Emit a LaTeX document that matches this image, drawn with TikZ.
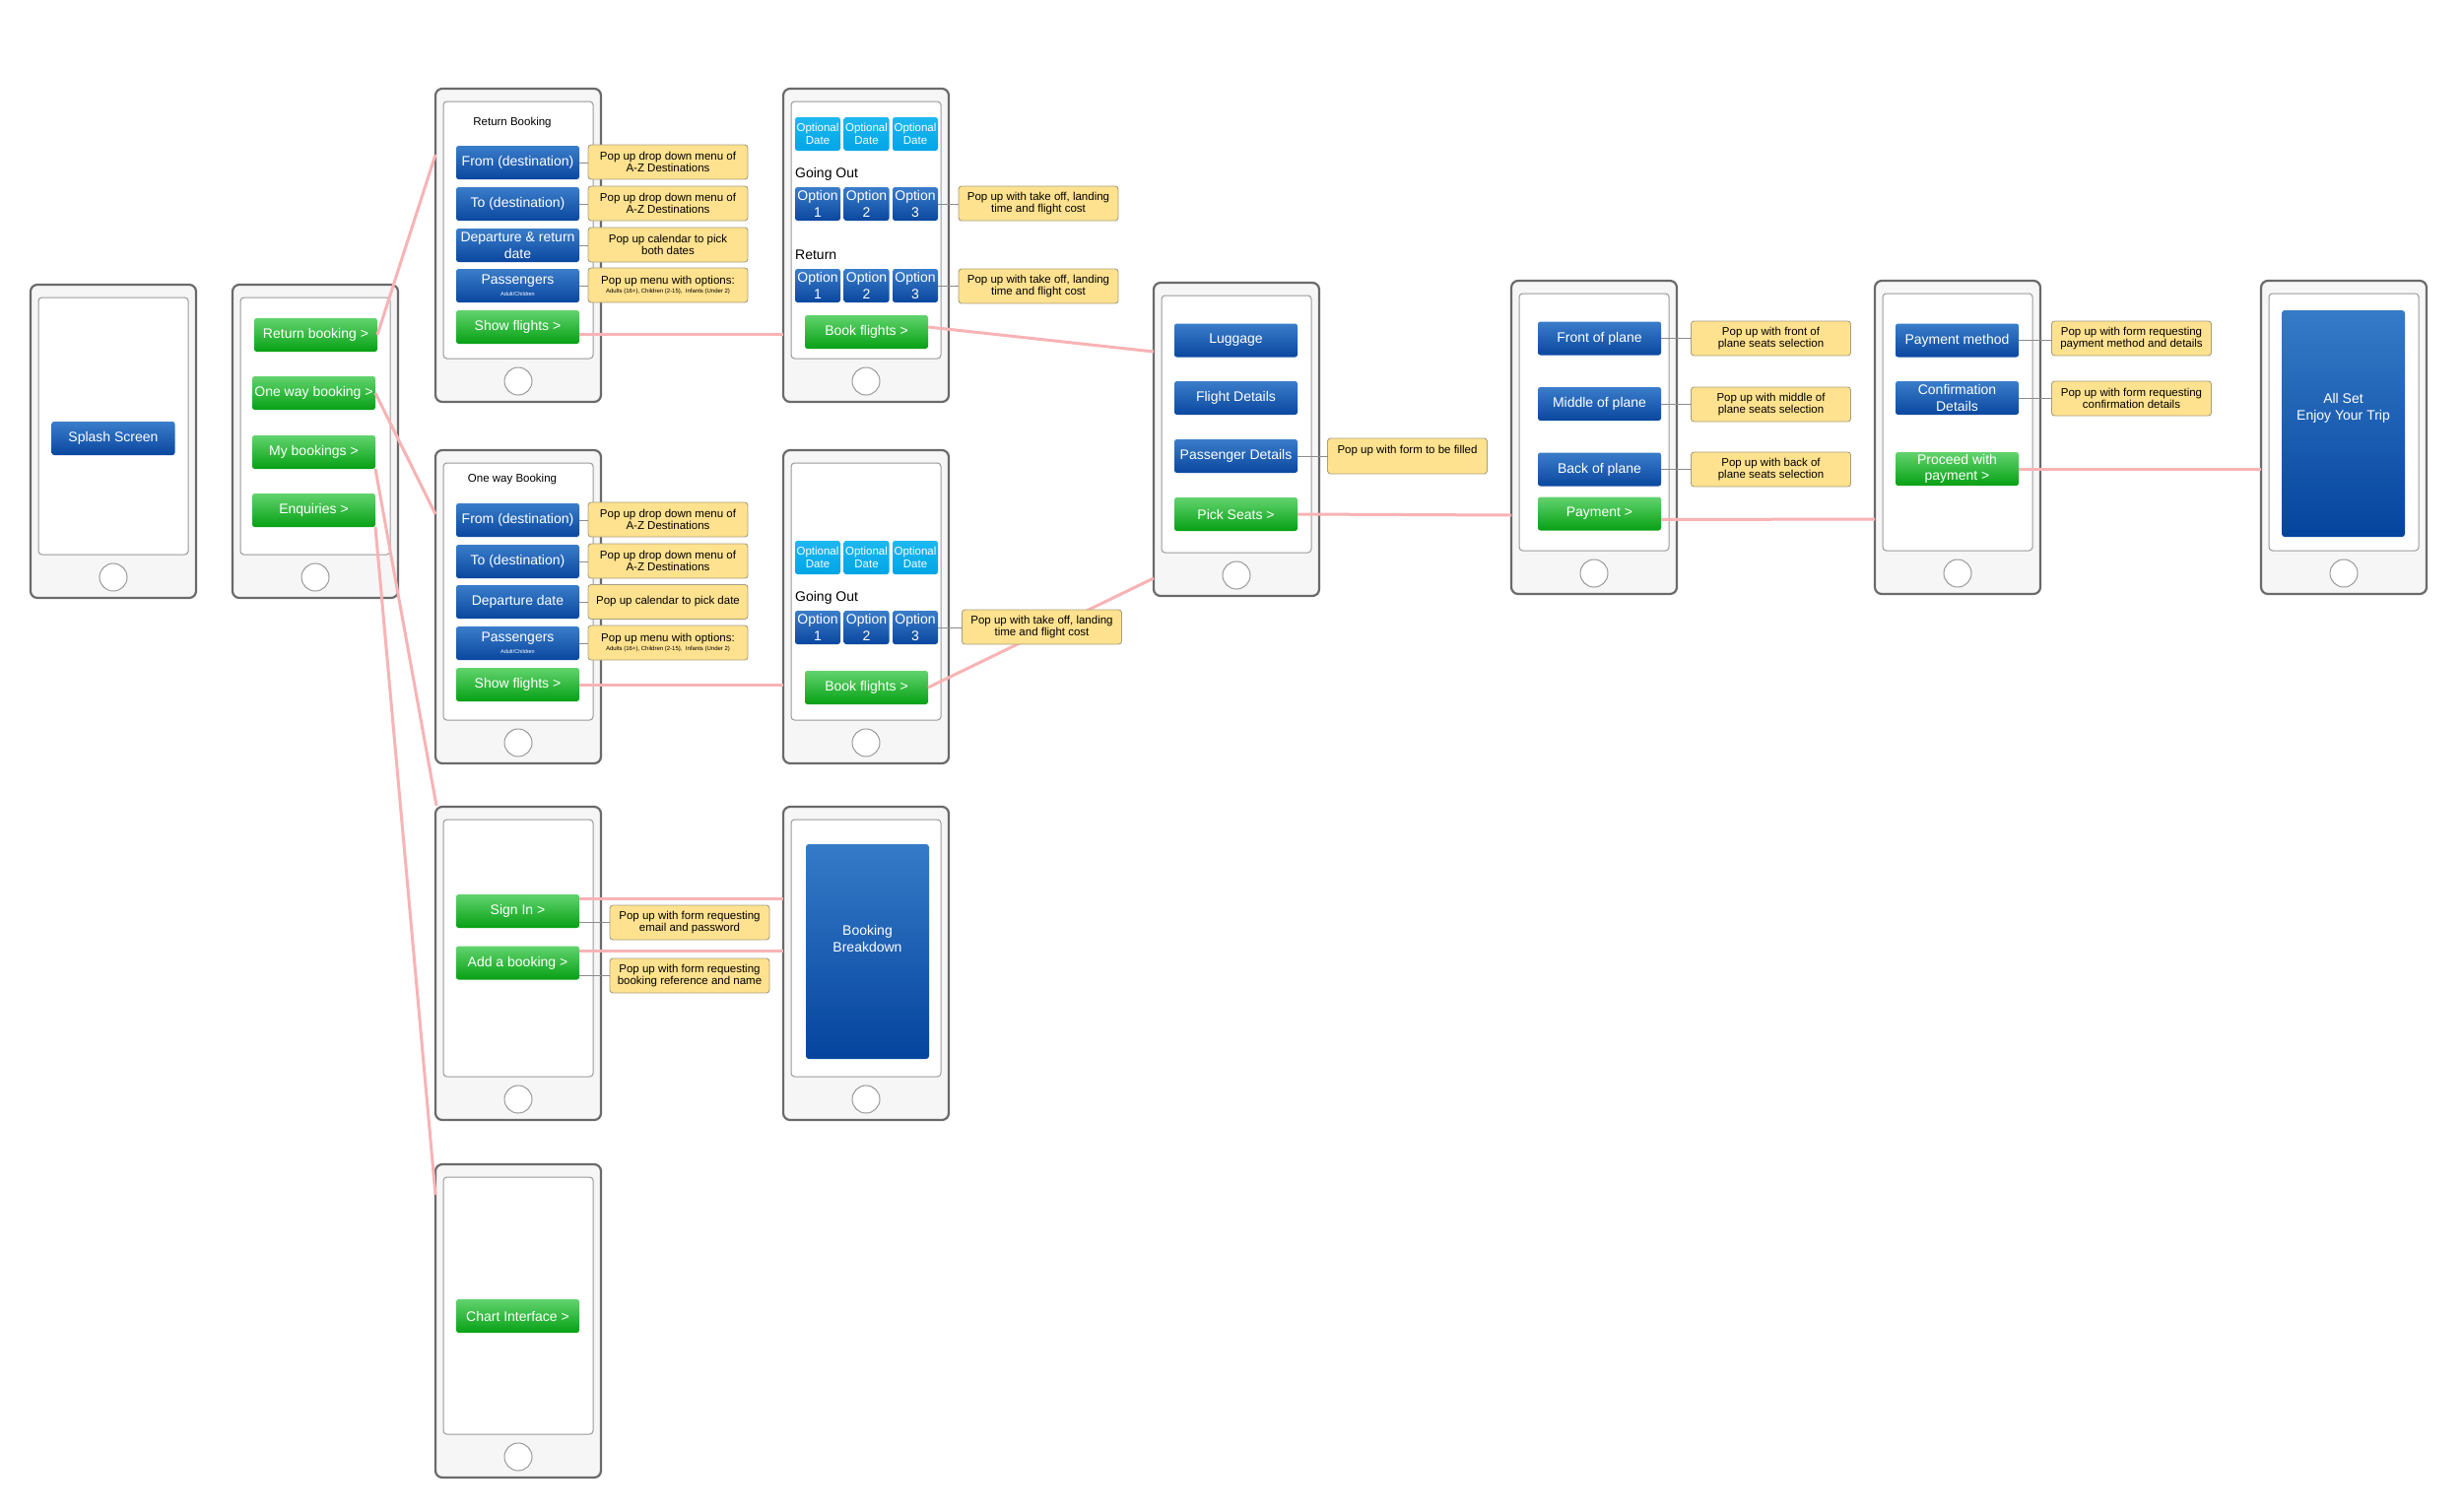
\documentclass[tikz,border=0pt]{standalone}
\usepackage{fontspec}
\setmainfont{Liberation Sans}
\usetikzlibrary{calc}
\definecolor{phoneline}{HTML}{6A6A6A}
\definecolor{phonefill}{HTML}{F6F6F6}
\definecolor{screenline}{HTML}{9A9A9A}
\definecolor{btop}{HTML}{3A7DCA}
\definecolor{bbot}{HTML}{0A479F}
\definecolor{gtop}{HTML}{62D36E}
\definecolor{gbot}{HTML}{06A014}
\definecolor{ltop}{HTML}{1EB8F0}
\definecolor{lbot}{HTML}{00A5E6}
\definecolor{ptop}{HTML}{357BC8}
\definecolor{pbot}{HTML}{05449E}
\definecolor{notefill}{HTML}{FFE28F}
\definecolor{noteline}{HTML}{A89F80}
\definecolor{linkpink}{HTML}{F8B3B5}
\definecolor{tiegray}{HTML}{8C8C8C}
\newcommand{\Phone}[3]{%
  \node[phonebody] (#1) at (#2,#3) {};
  \node[screenbox] (#1-scr) at (#2+8,#3+13) {};
  \node[homebtn] (#1-home) at (#2+84,#3+297) {};
}
\begin{document}
\begin{tikzpicture}[x=1pt,y=-1pt,
  phonebody/.style={draw=phoneline, line width=2.2pt, fill=phonefill, rounded corners=7pt, minimum width=168pt, minimum height=318pt, anchor=north west, inner sep=0pt, outer sep=0pt},
  screenbox/.style={draw=screenline, line width=1pt, fill=white, rounded corners=3.5pt, minimum width=152pt, minimum height=261pt, anchor=north west, inner sep=0pt, outer sep=0pt},
  homebtn/.style={circle, draw=screenline, line width=1pt, fill=white, minimum size=28pt, inner sep=0pt},
  btn/.style={rounded corners=2.5pt, text=white, font=\fontsize{14}{16.7}\selectfont, minimum width=125pt, minimum height=34pt, align=center, inner sep=0pt, outer sep=0pt},
  bbtn/.style={btn, top color=btop, bottom color=bbot},
  gbtn/.style={btn, top color=gtop, bottom color=gbot},
  otile/.style={bbtn, minimum width=46pt},
  dtile/.style={btn, minimum width=46pt, top color=ltop, bottom color=lbot, font=\fontsize{11.5}{12.5}\selectfont},
  panel/.style={rounded corners=3pt, top color=ptop, bottom color=pbot, minimum width=125pt, inner sep=0pt},
  paneltext/.style={text=white, font=\fontsize{14}{17}\selectfont, align=center, inner sep=0pt},
  note/.style={fill=notefill, draw=noteline, line width=0.9pt, rounded corners=3pt, font=\fontsize{11.5}{12.5}\selectfont, text=black, align=center, minimum width=162pt, minimum height=35pt, inner sep=0pt, outer sep=0pt},
  heading/.style={font=\fontsize{11.5}{13}\selectfont, text=black, inner sep=0pt},
  lbl/.style={font=\fontsize{14}{16}\selectfont, text=black, anchor=west, inner sep=0pt},
  link/.style={draw=linkpink, line width=3pt},
  tie/.style={draw=tiegray, line width=0.9pt}
]
\fill[white] (0,0) rectangle (2500,1534);
\useasboundingbox (0,0) rectangle (2500,1534);

% ---------- phones ----------
\Phone{splash}{31}{289}
\node[bbtn] (splashbtn) at (115,445) {Splash Screen};

\Phone{menu}{236}{289}
\node[gbtn] (mret) at (320.5,340) {Return booking >};
\node[gbtn] (mone) at (318.5,399) {One way booking >};
\node[gbtn] (mmy) at (318.5,459) {My bookings >};
\node[gbtn] (menq) at (318.5,518) {Enquiries >};

\Phone{rb}{442}{90}
\node[heading] (rbtitle) at (520,125) {Return Booking};
\node[bbtn] (rbfrom) at (525.5,165) {From (destination)};
\node[bbtn] (rbto) at (525.5,207) {To (destination)};
\node[bbtn] (rbdate) at (525.5,249) {Departure \& return\\date};
\node[bbtn] (rbpass) at (525.5,290) {Passengers\\[-5pt]{\fontsize{5.5}{6}\selectfont Adult/Children}};
\node[gbtn] (rbshow) at (525.5,332) {Show flights >};

\Phone{rf}{795}{90}
\node[dtile] (rfd1) at (830,136) {Optional\\Date};
\node[dtile] (rfd2) at (879.5,136) {Optional\\Date};
\node[dtile] (rfd3) at (929,136) {Optional\\Date};
\node[lbl] (rfgo) at (807,177) {Going Out};
\node[otile] (rfo1) at (830,207) {Option\\1};
\node[otile] (rfo2) at (879.5,207) {Option\\2};
\node[otile] (rfo3) at (929,207) {Option\\3};
\node[lbl] (rfret) at (807,259) {Return};
\node[otile] (rfr1) at (830,290) {Option\\1};
\node[otile] (rfr2) at (879.5,290) {Option\\2};
\node[otile] (rfr3) at (929,290) {Option\\3};
\node[gbtn] (rfbook) at (879.5,337) {Book flights >};

\Phone{ow}{442}{457}
\node[heading] (owtitle) at (520,487) {One way Booking};
\node[bbtn] (owfrom) at (525.5,528) {From (destination)};
\node[bbtn] (owto) at (525.5,570) {To (destination)};
\node[bbtn] (owdate) at (525.5,611) {Departure date};
\node[bbtn] (owpass) at (525.5,653) {Passengers\\[-5pt]{\fontsize{5.5}{6}\selectfont Adult/Children}};
\node[gbtn] (owshow) at (525.5,695) {Show flights >};

\Phone{of}{795}{457}
\node[dtile] (ofd1) at (830,566) {Optional\\Date};
\node[dtile] (ofd2) at (879.5,566) {Optional\\Date};
\node[dtile] (ofd3) at (929,566) {Optional\\Date};
\node[lbl] (ofgo) at (807,607) {Going Out};
\node[otile] (ofo1) at (830,637) {Option\\1};
\node[otile] (ofo2) at (879.5,637) {Option\\2};
\node[otile] (ofo3) at (929,637) {Option\\3};
\node[gbtn] (ofbook) at (879.5,698) {Book flights >};

\Phone{mb}{442}{819}
\node[gbtn] (mbsign) at (525.5,925) {Sign In >};
\node[gbtn] (mbadd) at (525.5,977.5) {Add a booking >};

\Phone{bd}{795}{819}
\node[panel, minimum height=218pt] (bdpanel) at (880.5,966) {};
\node[paneltext] (bdtext) at (880.5,953) {Booking\\Breakdown};

\Phone{ch}{442}{1182}
\node[gbtn] (chbtn) at (525.5,1336) {Chart Interface >};

\Phone{ex}{1171}{287}
\node[bbtn] (exlug) at (1254.5,345.5) {Luggage};
\node[bbtn] (exfl) at (1254.5,404) {Flight Details};
\node[bbtn] (expas) at (1254.5,463) {Passenger Details};
\node[gbtn] (expick) at (1254.5,522) {Pick Seats >};

\Phone{st}{1534}{285}
\node[bbtn] (stfront) at (1623.5,343.5) {Front of plane};
\node[bbtn] (stmid) at (1623.5,410) {Middle of plane};
\node[bbtn] (stback) at (1623.5,476.5) {Back of plane};
\node[gbtn] (stpay) at (1623.5,521.5) {Payment >};

\Phone{pm}{1903}{285}
\node[bbtn] (pmmeth) at (1986.5,345.5) {Payment method};
\node[bbtn] (pmconf) at (1986.5,404) {Confirmation\\Details};
\node[gbtn] (pmgo) at (1986.5,476) {Proceed with\\payment >};

\Phone{fin}{2295}{285}
\node[panel, minimum height=230pt] (finpanel) at (2378.5,430) {};
\node[paneltext] (fintext) at (2378.5,414.5) {All Set\\Enjoy Your Trip};

% ---------- flow links ----------
\coordinate (rbin) at (442,157);
\coordinate (owin) at (442,522);
\coordinate (mbin) at (443,818);
\coordinate (chin) at (442,1213);
\coordinate (rfin) at (795,339);
\coordinate (rfout) at ($(rfbook.east)+(0,-5)$);
\coordinate (exin1) at (1171,357);
\coordinate (exin2) at (1171,587);
\coordinate (stin) at (1534,523);
\coordinate (stout) at ($(stpay.east)+(0,6)$);
\coordinate (pmin) at (1903,527);
\coordinate (sgout) at ($(mbsign.north east)+(0,4)$);
\coordinate (adout) at ($(mbadd.north east)+(0,5)$);
\draw[link] (mret.east) -- (rbin);
\draw[link] (mone.east) -- (owin);
\draw[link] (mmy.south east) -- (mbin);
\draw[link] (menq.south east) -- (chin);
\draw[link] (rbshow.east |- rfin) -- (rfin);
\draw[link] (owshow.east) -- (owshow.east -| of.west);
\draw[link] (rfout) -- (exin1);
\draw[link] (ofbook.east) -- (exin2);
\draw[link] (expick.east) -- (stin);
\draw[link] (stout) -- (pmin);
\draw[link] (pmgo.east) -- (pmgo.east -| fin.west);
\draw[link] (sgout) -- (sgout -| bd.west);
\draw[link] (adout) -- (adout -| bd.west);

% ---------- notes ----------
\node[note] (rbn1) at (678,164.5) {Pop up drop down menu of\\A-Z Destinations};
\node[note] (rbn2) at (678,206.5) {Pop up drop down menu of\\A-Z Destinations};
\node[note] (rbn3) at (678,248.5) {Pop up calendar to pick\\both dates};
\node[note] (rbn4) at (678,289.5) {Pop up menu with options:\\[-4pt]{\fontsize{6}{7}\selectfont Adults (16+), Children (2-15),\ \ Infants (Under 2)}};
\node[note] (rfn1) at (1054,206.5) {Pop up with take off, landing\\time and flight cost};
\node[note] (rfn2) at (1054,290.5) {Pop up with take off, landing\\time and flight cost};
\node[note] (own1) at (678,527.5) {Pop up drop down menu of\\A-Z Destinations};
\node[note] (own2) at (678,569.5) {Pop up drop down menu of\\A-Z Destinations};
\node[note] (own3) at (678,611) {Pop up calendar to pick date};
\node[note] (own4) at (678,652.5) {Pop up menu with options:\\[-4pt]{\fontsize{6}{7}\selectfont Adults (16+), Children (2-15),\ \ Infants (Under 2)}};
\node[note] (ofn1) at (1057.5,636.5) {Pop up with take off, landing\\time and flight cost};
\node[note] (mbn1) at (700,936.5) {Pop up with form requesting\\email and password};
\node[note] (mbn2) at (700,990.5) {Pop up with form requesting\\booking reference and name};
\node[note, minimum height=36pt] (exn1) at (1428.5,463) {Pop up with form to be filled\\\mbox{}};
\node[note] (stn1) at (1797.5,343.5) {Pop up with front of\\plane seats selection};
\node[note] (stn2) at (1797.5,410.5) {Pop up with middle of\\plane seats selection};
\node[note] (stn3) at (1797.5,476.5) {Pop up with back of\\plane seats selection};
\node[note] (pmn1) at (2163.5,343.5) {Pop up with form requesting\\payment method and details};
\node[note] (pmn2) at (2163.5,404.5) {Pop up with form requesting\\confirmation details};

% ---------- ties ----------
\draw[tie] (rbfrom.east) -- (rbfrom.east -| rbn1.west);
\draw[tie] (rbto.east) -- (rbto.east -| rbn2.west);
\draw[tie] (rbdate.east) -- (rbdate.east -| rbn3.west);
\draw[tie] (rbpass.east) -- (rbpass.east -| rbn4.west);
\draw[tie] (rfo3.east) -- (rfo3.east -| rfn1.west);
\draw[tie] (rfr3.east) -- (rfr3.east -| rfn2.west);
\draw[tie] (owfrom.east) -- (owfrom.east -| own1.west);
\draw[tie] (owto.east) -- (owto.east -| own2.west);
\draw[tie] (owdate.east) -- (owdate.east -| own3.west);
\draw[tie] (owpass.east) -- (owpass.east -| own4.west);
\draw[tie] (ofo3.east) -- (ofo3.east -| ofn1.west);
\draw[tie] (mbn1.west -| mbsign.east) -- (mbn1.west);
\draw[tie] (mbn2.west -| mbadd.east) -- (mbn2.west);
\draw[tie] (expas.east) -- (expas.east -| exn1.west);
\draw[tie] (stfront.east) -- (stfront.east -| stn1.west);
\draw[tie] (stmid.east) -- (stmid.east -| stn2.west);
\draw[tie] (stback.east) -- (stback.east -| stn3.west);
\draw[tie] (pmmeth.east) -- (pmmeth.east -| pmn1.west);
\draw[tie] (pmconf.east) -- (pmconf.east -| pmn2.west);
\end{tikzpicture}
\end{document}
